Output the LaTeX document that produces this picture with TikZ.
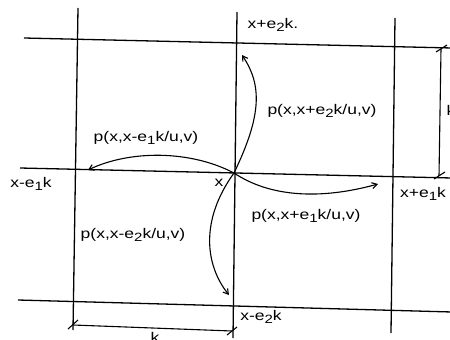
\documentclass[tikz,border=0pt]{standalone}
\usepackage{fontspec}
\usepackage{graphicx}
\setmainfont{Liberation Sans}
\usetikzlibrary{arrows.meta}
\newcommand\lblfont{\fontsize{14}{16}\selectfont}
\newcommand\sbx[1]{\raisebox{-0.45ex}{\fontsize{12}{12}\selectfont #1}}
\newcommand\stx[1]{\scalebox{1.25}[1]{#1}}
\begin{document}
\begin{tikzpicture}[x=1pt,y=-1pt,
  gridline/.style={line width=1.3pt,black},
  dimline/.style={line width=1.1pt,black},
  arr/.style={line width=1.1pt,black,-{Straight Barb[length=5pt,width=6pt]}},
  lbl/.style={font=\lblfont,inner sep=0pt,text=black}]
\useasboundingbox (0,0) rectangle (450,340);
% grid lines
\coordinate (v1a) at (78,8);   \coordinate (v1b) at (73,330);
\coordinate (v2a) at (237,12); \coordinate (v2b) at (233,338);
\coordinate (v3a) at (395,18); \coordinate (v3b) at (391,333);
\coordinate (h1a) at (24,38);  \coordinate (h1b) at (452,48);
\coordinate (h2a) at (20,168); \coordinate (h2b) at (452,178);
\coordinate (h3a) at (18,300); \coordinate (h3b) at (452,312);
\draw[gridline] (v1a) -- (v1b);
\draw[gridline] (v2a) -- (v2b);
\draw[gridline] (v3a) -- (v3b);
\draw[gridline] (h1a) -- (h1b);
\draw[gridline] (h2a) -- (h2b);
\draw[gridline] (h3a) -- (h3b);
% dimension lines
\coordinate (d1a) at (73,325); \coordinate (d1b) at (232,331);
\draw[dimline] (d1a) -- (d1b);
\draw[dimline] (68,329) -- (78,320);
\draw[dimline] (227,335) -- (237,327);
\coordinate (d2a) at (441,49); \coordinate (d2b) at (439,176);
\draw[dimline] (d2a) -- (d2b);
\draw[dimline] (436,52) -- (447,45);
\draw[dimline] (434,179) -- (445,172);
\node[lbl] (kb) at (155,337) {\stx{k}};
\node[lbl] (kr) at (451,110) {\stx{k}};
% centre point
\coordinate (c) at (234,173);
\coordinate (tu) at (242,55);
\coordinate (tl) at (88,170);
\coordinate (tr) at (378,184);
\coordinate (td) at (229,295);
\draw[arr] (c) .. controls (262,115) and (262,85) .. (tu);
\draw[arr] (c) .. controls (190,150) and (130,150) .. (tl);
\draw[arr] (c) .. controls (270,197) and (320,200) .. (tr);
\draw[arr] (c) .. controls (200,220) and (205,265) .. (td);
% labels
\node[lbl] (xc) at (219,183) {\stx{x}};
\node[lbl] (xpe2) at (273,25) {\stx{x+e\sbx{2}k.}};
\node[lbl] (xme2) at (261,317) {\stx{x-e\sbx{2}k}};
\node[lbl] (xme1) at (31,184) {\stx{x-e\sbx{1}k}};
\node[lbl] (xpe1) at (423,194) {\stx{x+e\sbx{1}k}};
\node[lbl] (pu) at (322,111) {\stx{p(x,x+e\sbx{2}k/u,v)}};
\node[lbl] (pl) at (146,138) {\stx{p(x,x-e\sbx{1}k/u,v)}};
\node[lbl] (pr) at (306,216) {\stx{p(x,x+e\sbx{1}k/u,v)}};
\node[lbl] (pd) at (133,235) {\stx{p(x,x-e\sbx{2}k/u,v)}};
\end{tikzpicture}
\end{document}
